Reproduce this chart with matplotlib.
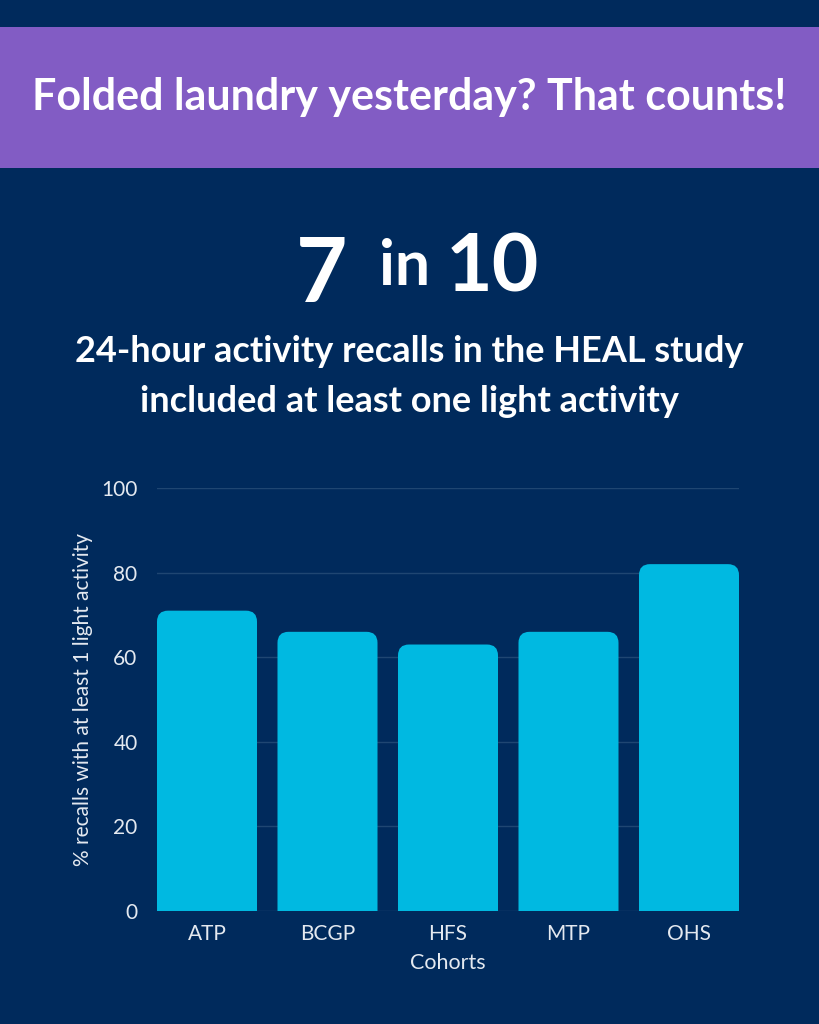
import matplotlib
matplotlib.use("Agg")
import matplotlib.pyplot as plt
from matplotlib.patches import FancyBboxPatch, Rectangle

# ── Data ────────────────────────────────────────────────────────────────
cohorts = ["ATP", "BCGP", "HFS", "MTP", "OHS"]
pct_light = [71, 66, 63, 66, 82]
y_ticks = [0, 20, 40, 60, 80, 100]

BG = "#002A5C"
PURPLE = "#825CC4"
BAR = "#00B9E1"
GRID = "#1F4672"
TICK = "#E4E9F0"

fig = plt.figure(figsize=(8.19, 10.24), dpi=100, facecolor=BG)

# purple banner
fig.patches.append(Rectangle((0, 1 - 168 / 1024), 1, 141 / 1024,
                             transform=fig.transFigure, facecolor=PURPLE,
                             edgecolor="none", zorder=0))
fig.text(0.5, 1 - 97 / 1024, "Folded laundry yesterday? That counts!",
         ha="center", va="center", color="white", fontsize=31,
         fontweight="bold", family="Lato")

# headline "7 in 10"
fig.text(347 / 819, 1 - 302 / 1024, "7", ha="right", va="baseline",
         color="white", fontsize=64, fontweight="bold", family="Lato")
fig.text(379 / 819, 1 - 285 / 1024, "in", ha="left", va="baseline",
         color="white", fontsize=45, fontweight="bold", family="Lato")
fig.text(446 / 819, 1 - 292 / 1024, "10", ha="left", va="baseline",
         color="white", fontsize=58, fontweight="bold", family="Lato")

fig.text(0.5, 1 - 352 / 1024, "24-hour activity recalls in the HEAL study",
         ha="center", va="center", color="white", fontsize=26,
         fontweight="bold", family="Lato")
fig.text(0.5, 1 - 401 / 1024, "included at least one light activity",
         ha="center", va="center", color="white", fontsize=26,
         fontweight="bold", family="Lato")

# ── Bar chart ───────────────────────────────────────────────────────────
ax = fig.add_axes([157 / 819, 1 - 911 / 1024, 582 / 819, 423 / 1024])
ax.set_facecolor(BG)
width = 0.83
x = range(len(cohorts))
bars = ax.bar(x, pct_light, width=width, color="none", edgecolor="none")

# rounded top corners: rounded box reaching below 0, clipped by the axes
px_per_x = 582 / (len(cohorts) - 1 + width)
px_per_y = 423 / 100
radius = 11 / px_per_x
aspect = (11 / px_per_y) / radius
for b in bars:
    r = FancyBboxPatch((b.get_x(), -20), b.get_width(), b.get_height() + 20,
                       boxstyle=f"round,pad=0,rounding_size={radius}",
                       mutation_aspect=aspect, facecolor=BAR,
                       edgecolor="none", zorder=3)
    ax.add_patch(r)

ax.set_xlim(-width / 2, len(cohorts) - 1 + width / 2)
ax.set_ylim(0, 100)
ax.set_yticks(y_ticks)
ax.set_xticks(list(x))
ax.set_xticklabels(cohorts)
ax.yaxis.grid(True, color=GRID, linewidth=1)
ax.set_axisbelow(True)
for s in ax.spines.values():
    s.set_visible(False)
ax.tick_params(axis="both", length=0, colors=TICK, labelsize=15)
ax.tick_params(axis="y", pad=14)
ax.tick_params(axis="x", pad=9)
for lbl in ax.get_xticklabels() + ax.get_yticklabels():
    lbl.set_family("Lato")

ax.set_xlabel("Cohorts", color=TICK, fontsize=15.5, family="Lato", labelpad=7)
ax.set_ylabel("% recalls with at least 1 light activity", color=TICK,
              fontsize=15, family="Lato", labelpad=6)

fig.savefig("out.png", dpi=100, facecolor=BG)
